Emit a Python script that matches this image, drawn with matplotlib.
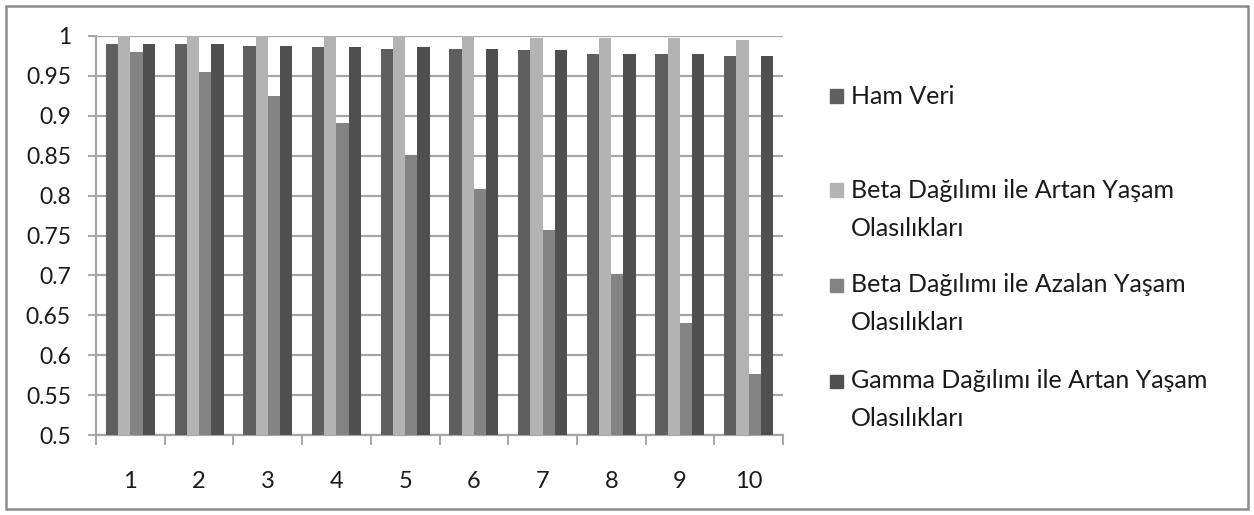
import matplotlib
matplotlib.use("Agg")
import matplotlib.pyplot as plt
from matplotlib.patches import Rectangle
import numpy as np

plt.rcParams['font.family'] = ['Lato', 'DejaVu Sans']

categories = ['1', '2', '3', '4', '5', '6', '7', '8', '9', '10']
series_names = [
    "Ham Veri",
    "Beta Dağılımı ile Artan Yaşam\nOlasılıkları",
    "Beta Dağılımı ile Azalan Yaşam\nOlasılıkları",
    "Gamma Dağılımı ile Artan Yaşam\nOlasılıkları",
]
ham_veri = [0.990, 0.990, 0.988, 0.986, 0.984, 0.984, 0.982, 0.978, 0.977, 0.975]
beta_artan = [1.000, 1.000, 1.000, 1.000, 1.000, 1.000, 0.997, 0.997, 0.997, 0.995]
beta_azalan = [0.980, 0.955, 0.925, 0.891, 0.851, 0.808, 0.757, 0.702, 0.640, 0.576]
gamma_artan = [0.990, 0.990, 0.988, 0.986, 0.986, 0.984, 0.982, 0.978, 0.977, 0.975]
yticks = [0.5, 0.55, 0.6, 0.65, 0.7, 0.75, 0.8, 0.85, 0.9, 0.95, 1.0]
ytick_labels = ['0.5', '0.55', '0.6', '0.65', '0.7', '0.75', '0.8', '0.85', '0.9', '0.95', '1']

series = [ham_veri, beta_artan, beta_azalan, gamma_artan]
colors = ['#5f5f5f', '#b3b3b3', '#838383', '#4f4f4f']

W, H = 1254, 515
fig = plt.figure(figsize=(W / 100, H / 100), dpi=100)
ax = fig.add_axes([96 / W, 1 - 435 / H, (783 - 96) / W, (435 - 36) / H])

x = np.arange(1, len(categories) + 1)
bw = 0.178
for i, (vals, c) in enumerate(zip(series, colors)):
    ax.bar(x + (i - 1.5) * bw, np.array(vals) - 0.5, bottom=0.5, width=bw,
           color=c, edgecolor='none', zorder=3)

ax.set_xlim(0.5, len(categories) + 0.5)
ax.set_ylim(0.5, 1.0)
ax.set_yticks(yticks)
ax.set_yticklabels(ytick_labels)
ax.set_xticks(x)
ax.set_xticklabels(categories)
ax.set_xticks(np.arange(0.5, len(categories) + 1, 1), minor=True)

gridc = '#a6a6a6'
ax.yaxis.grid(True, color=gridc, linewidth=1.6, zorder=0)
for s in ['top', 'right']:
    ax.spines[s].set_visible(False)
for s in ['left', 'bottom']:
    ax.spines[s].set_color(gridc)
    ax.spines[s].set_linewidth(1.6)
ax.tick_params(axis='y', length=6, width=1.4, color=gridc, labelsize=16.5, pad=12,
               labelcolor='#1a1a1a')
ax.tick_params(axis='x', which='major', length=0, labelsize=17, pad=26,
               labelcolor='#1a1a1a')
ax.tick_params(axis='x', which='minor', length=7, width=1.4, color=gridc)

# legend drawn manually to mimic square markers on first line of wrapped labels
entry_y = [96, 190, 285, 381]
line_gap = 38
for name, c, yc in zip(series_names, colors, entry_y):
    sq = 13
    fig.patches.append(Rectangle((830 / W, 1 - (yc + sq / 2) / H), sq / W, sq / H,
                                 transform=fig.transFigure, color=c, figure=fig))
    for j, line in enumerate(name.split('\n')):
        fig.text(851 / W, 1 - (yc + j * line_gap) / H, line, fontsize=18,
                 va='center', ha='left', color='#1a1a1a')

# outer chart border
fig.patches.append(Rectangle((6 / W, 6 / H), (W - 12) / W, (H - 12) / H,
                             transform=fig.transFigure, fill=False,
                             edgecolor='#8c8c8c', linewidth=1.8, figure=fig))

fig.savefig('out.png', dpi=100)
